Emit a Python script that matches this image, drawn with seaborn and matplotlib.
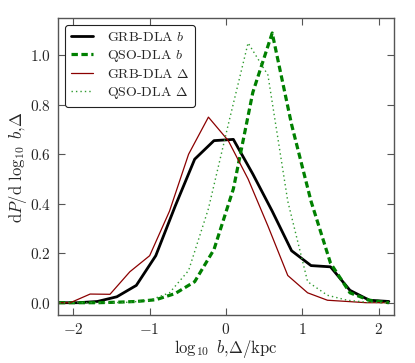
import numpy as np
import pandas as pd
import seaborn as sns
import matplotlib
matplotlib.use("Agg")
import matplotlib.pyplot as plt

# bin centres (log10 kpc) for impact parameter b and separation Delta
B_BINS = [-2.19, -1.94, -1.685, -1.43, -1.175, -0.92, -0.666, -0.41, -0.157,
          0.097, 0.352, 0.606, 0.86, 1.115, 1.37, 1.625, 1.88, 2.135]
DELTA_BINS = [-2.30, -2.04, -1.78, -1.52, -1.26, -1.00, -0.74, -0.49, -0.23,
              0.03, 0.29, 0.55, 0.81, 1.07, 1.33, 1.59, 1.84, 2.10]

GRB_B = [0.0, 0.0, 0.005, 0.024, 0.07, 0.19, 0.39, 0.58, 0.655,
         0.66, 0.52, 0.37, 0.21, 0.15, 0.145, 0.05, 0.01, 0.005]
QSO_B = [0.0, 0.0, 0.0, 0.002, 0.005, 0.012, 0.037, 0.085, 0.215,
         0.46, 0.85, 1.09, 0.72, 0.41, 0.16, 0.04, 0.01, 0.0]
GRB_DELTA = [0.0, 0.0, 0.035, 0.034, 0.125, 0.19, 0.37, 0.60, 0.75,
             0.655, 0.50, 0.31, 0.11, 0.04, 0.01, 0.005, 0.0, 0.0]
QSO_DELTA = [0.0, 0.0, 0.0, 0.0, 0.002, 0.01, 0.04, 0.13, 0.38,
             0.72, 1.05, 0.92, 0.41, 0.085, 0.03, 0.01, 0.002, 0.0]

SERIES = [
    ("GRB-DLA $b$", B_BINS, GRB_B, dict(color="black", lw=2.0), None),
    ("QSO-DLA $b$", B_BINS, QSO_B, dict(color="green", lw=2.3), (2.0, 1.1)),
    ("GRB-DLA $\\Delta$", DELTA_BINS, GRB_DELTA, dict(color="darkred", lw=0.9), None),
    ("QSO-DLA $\\Delta$", DELTA_BINS, QSO_DELTA, dict(color="#2e9a2e", lw=1.0), (1.0, 2.2)),
]


def main():
    sns.set_style("ticks")
    plt.rcParams["font.family"] = "serif"
    plt.rcParams["font.serif"] = ["cmr10", "DejaVu Serif"]
    plt.rcParams["mathtext.fontset"] = "cm"
    plt.rcParams["axes.formatter.use_mathtext"] = True
    plt.rcParams["axes.unicode_minus"] = True

    fig = plt.figure(figsize=(4.15, 3.63), dpi=100)
    ax = fig.add_axes([0.14, 0.132, 0.809, 0.818])

    for label, xs, ys, style, dashes in SERIES:
        df = pd.DataFrame({"x": xs, "y": ys})
        sns.lineplot(data=df, x="x", y="y", ax=ax, sort=False, label=label, **style)
        if dashes is not None:
            ax.lines[-1].set_dashes(dashes)

    ax.set_xlim(-2.2, 2.2)
    ax.set_ylim(-0.05, 1.15)
    ax.set_xticks([-2, -1, 0, 1, 2])
    ax.set_yticks([0.0, 0.2, 0.4, 0.6, 0.8, 1.0])
    ax.tick_params(direction="in", top=True, right=True, length=5, width=0.8,
                   labelsize=11, color="#555555", pad=5)
    for sp in ax.spines.values():
        sp.set_color("#555555")
        sp.set_linewidth(1.0)

    ax.set_xlabel(r"$\log_{10}\ b,\!\Delta/\mathrm{kpc}$", fontsize=12, labelpad=1)
    ax.set_ylabel(r"$\mathrm{d}P/\mathrm{d}\ \log_{10}\ b,\!\Delta$", fontsize=12, labelpad=1)

    leg = ax.legend(loc="upper left", fontsize=10, frameon=True, fancybox=True,
                    handlelength=1.6, handletextpad=1.0, borderpad=0.4,
                    labelspacing=0.3)
    leg.get_frame().set_edgecolor("#222222")
    leg.get_frame().set_linewidth(0.8)
    leg.get_frame().set_alpha(1.0)

    fig.savefig("out.png", dpi=100)


if __name__ == "__main__":
    main()
